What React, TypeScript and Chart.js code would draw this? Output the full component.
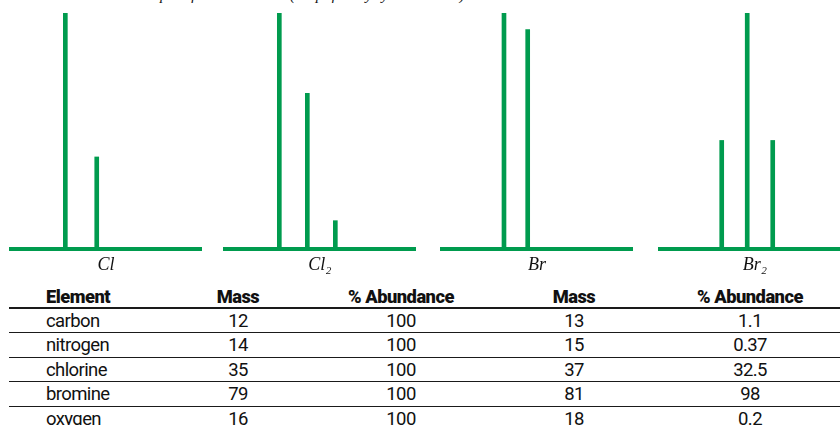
import React, { useEffect, useRef } from "react";
import { Chart, registerables } from "chart.js";

Chart.register(...registerables);

// ---- spectra data (relative peak heights) ----
const panelLabels = ["Cl", "Cl₂", "Br", "Br₂"];
const clMasses = [35, 37];
const clValues = [100, 39];
const cl2Masses = [70, 72, 74];
const cl2Values = [100, 66, 12];
const brMasses = [79, 81];
const brValues = [100, 93];
const br2Masses = [158, 160, 162];
const br2Values = [46, 100, 46];
const axisMin = [31.54, 66.12, 73.77, 153.16];
const axisMax = [43.64, 79.69, 89.8, 168.06];

// ---- table data ----
const tableHeaders = ["Element", "Mass", "% Abundance", "Mass", "% Abundance"];
const elements = ["carbon", "nitrogen", "chlorine", "bromine", "oxygen"];
const massLight = ["12", "14", "35", "79", "16"];
const abundanceLight = ["100", "100", "100", "100", "100"];
const massHeavy = ["13", "15", "37", "81", "18"];
const abundanceHeavy = ["1.1", "0.37", "32.5", "98", "0.2"];

const titleText = "Isotopes of some elements (simplified by synthetic data)";

const GREEN = "#009B4E";
const panelMasses = [clMasses, cl2Masses, brMasses, br2Masses];
const panelValues = [clValues, cl2Values, brValues, br2Values];
const panelLefts = [9, 223, 440, 658];

function Spectrum({ index }: { index: number }) {
  const ref = useRef<HTMLCanvasElement | null>(null);
  useEffect(() => {
    if (!ref.current) return;
    const pts = panelMasses[index].map((m, i) => ({ x: m, y: panelValues[index][i] }));
    const chart = new Chart(ref.current, {
      type: "bar",
      data: {
        datasets: [
          {
            data: pts as any,
            backgroundColor: GREEN,
            borderWidth: 0,
            barThickness: 4,
          },
        ],
      },
      options: {
        animation: false,
        responsive: false,
        devicePixelRatio: 1,
        layout: { padding: { left: 2, right: 1, top: 13, bottom: 0 } },
        plugins: { legend: { display: false }, tooltip: { enabled: false }, title: { display: false } },
        scales: {
          x: {
            type: "linear",
            min: axisMin[index],
            max: axisMax[index],
            offset: false,
            ticks: { display: false },
            grid: { display: false, drawTicks: false },
            border: { display: true, color: GREEN, width: 4 },
            title: {
              display: true,
              text: panelLabels[index],
              color: "#111",
              font: { family: "Liberation Serif", style: "italic", size: 18, lineHeight: 1.2 },
              padding: { top: 5.4, bottom: 0 },
            },
          },
          y: {
            display: false,
            min: 0,
            max: 100,
          },
        },
      },
    });
    return () => chart.destroy();
  }, [index]);
  return (
    <canvas
      ref={ref}
      width={193}
      height={276}
      style={{ position: "absolute", left: panelLefts[index], top: 0, width: 193, height: 276 }}
    />
  );
}

const cols = "172px 114px 212px 134px 218px";

export default function App() {
  const rows = elements.map((e, i) => [e, massLight[i], abundanceLight[i], massHeavy[i], abundanceHeavy[i]]);
  return (
    <div
      style={{
        position: "fixed",
        left: 0,
        top: 0,
        width: 840,
        height: 425,
        overflow: "hidden",
        background: "#fff",
      }}
    >
      <div
        style={{
          position: "absolute",
          left: 130,
          top: -14,
          whiteSpace: "nowrap",
          fontFamily: "'Liberation Serif', serif",
          fontStyle: "italic",
          fontSize: 15,
          lineHeight: "18px",
          color: "#111",
        }}
      >
        {titleText}
      </div>
      {[0, 1, 2, 3].map((i) => (
        <Spectrum key={i} index={i} />
      ))}
      <div
        style={{
          position: "absolute",
          left: 9,
          top: 283,
          width: 850,
          fontFamily: "Roboto, 'Noto Sans', sans-serif",
          color: "#111",
        }}
      >
        <div
          style={{
            display: "grid",
            gridTemplateColumns: cols,
            height: 23.7,
            borderBottom: "2px solid #1a1a1a",
            fontWeight: 900,
            fontSize: 18.3,
            lineHeight: "28.1px",
            letterSpacing: "-0.5px",
            whiteSpace: "nowrap",
          }}
        >
          {tableHeaders.map((h, j) => (
            <div key={j} style={{ textAlign: j === 0 ? "left" : "center", paddingLeft: j === 0 ? 37 : 0 }}>
              {h}
            </div>
          ))}
        </div>
        {rows.map((r, i) => (
          <div
            key={i}
            style={{
              display: "grid",
              gridTemplateColumns: cols,
              height: 23.5,
              borderBottom: "1px solid #1a1a1a",
              fontWeight: 400,
              fontSize: 18.5,
              lineHeight: "25.35px",
              letterSpacing: "-0.6px",
              whiteSpace: "nowrap",
            }}
          >
            {r.map((c, j) => (
              <div key={j} style={{ textAlign: j === 0 ? "left" : "center", paddingLeft: j === 0 ? 37 : 0 }}>
                {c}
              </div>
            ))}
          </div>
        ))}
      </div>
    </div>
  );
}
